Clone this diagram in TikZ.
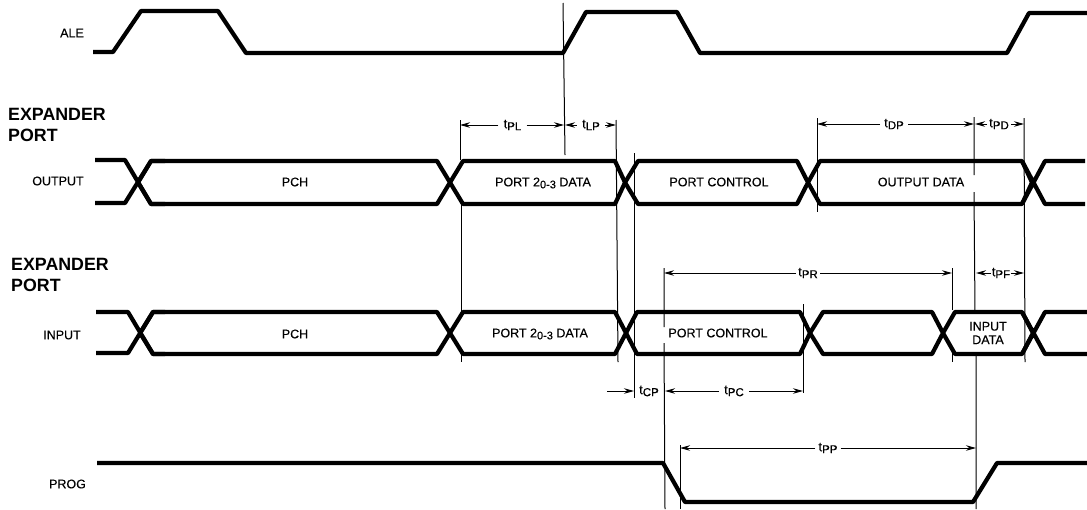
\documentclass[tikz,border=0pt]{standalone}
\usepackage{fontspec}
\setmainfont{Liberation Sans}
\newfontfamily\labf[FakeBold=0.35]{Liberation Sans}
\usetikzlibrary{arrows.meta}
\newcommand{\tsub}[1]{t{\fontsize{11.5}{12}\selectfont\raisebox{-2pt}{#1}}}
\newcommand{\hexseg}[6]{\draw[wave] (#1,{(#5+#6)/2}) -- (#2,#5) -- (#3,#5) -- (#4,{(#5+#6)/2}) -- (#3,#6) -- (#2,#6) -- cycle;}
\tikzset{
  wave/.style={line width=4.2pt,line join=round,line cap=butt},
  guide/.style={line width=1pt},
  dim/.style={line width=1pt,-{Stealth[length=10pt,width=5.5pt]}},
  lab/.style={font=\labf\fontsize{12.5}{13.5}\selectfont,inner sep=0pt,align=center},
  head/.style={font=\fontsize{17.8}{20}\selectfont\bfseries,inner sep=0pt,anchor=west},
  tl/.style={font=\labf\fontsize{13}{14}\selectfont,inner sep=2pt}
}
\begin{document}
\begin{tikzpicture}[x=1pt,y=-1pt]
\useasboundingbox (0,0) rectangle (1087,509);
% guide lines
\draw[guide] (563,3) -- (565,155);
\draw[guide] (460,120) -- (460,160) (461,204) -- (461,312) (461,354) -- (461,362);
\draw[guide] (616,120) -- (618,362);
\draw[guide] (634,153) -- (634,398);
\draw[guide] (664,268) -- (664,327) (664,343) -- (665,509);
\draw[guide] (680,445) -- (680,509);
\draw[guide] (803,304) -- (803,393);
\draw[guide] (817,118) -- (817,212);
\draw[guide] (974,117) -- (974,175) (974,192) -- (975,312) (976,353) -- (976,509);
\draw[guide] (1024,118) -- (1025,362);
\draw[guide] (952,268) -- (952,310) (952,352) -- (952,362);
% ALE
\draw[wave] (93,52) -- (113,52) -- (141,11) -- (218,11) -- (246,53) -- (563,53) -- (586,12) -- (677,12) -- (700,53) -- (1007,53) -- (1029,13) -- (1087,13);
% output bus
\draw[wave] (95,160) -- (125,160) -- (151,204) -- (165,204) (95,203) -- (125,203) -- (151,161) -- (165,161);
\hexseg{138}{151}{437}{450}{161}{204}
\hexseg{450}{463}{615}{625}{161}{204}
\hexseg{625}{638}{797}{808}{161}{204}
\hexseg{808}{820}{1022}{1032}{161}{204}
\draw[wave] (1022,161) -- (1045,204) -- (1085,204) (1022,204) -- (1045,161) -- (1085,161);
% input bus
\draw[wave] (96,312) -- (128,312) -- (153,354) -- (165,354) (96,353) -- (128,353) -- (153,312) -- (165,312);
\hexseg{140}{153}{437}{450}{312}{354}
\hexseg{450}{463}{615}{626}{312}{354}
\hexseg{626}{637}{800}{810}{312}{354}
\hexseg{810}{823}{932}{943}{312}{354}
\hexseg{943}{955}{1022}{1033}{312}{354}
\draw[wave] (1022,312) -- (1045,354) -- (1087,354) (1022,354) -- (1045,312) -- (1087,312);
% PROG
\draw[wave] (97,463) -- (663,463) -- (685,502) -- (973,502) -- (997,463) -- (1087,463);
% signal labels
\node[lab] (ale) at (72,33) {ALE};
\node[lab] (out) at (58,181) {OUTPUT};
\node[lab] (inp) at (62,335) {INPUT};
\node[lab] (prog) at (67.5,484) {PROG};
\node[head] (e1) at (8,114) {EXPANDER};
\node[head] (p1) at (8,135) {PORT};
\node[head] (e2) at (11,264) {EXPANDER};
\node[head] (p2) at (11,285) {PORT};
% bus labels
\node[lab] (pch1) at (295,182) {PCH};
\node[lab] (pch2) at (295,334) {PCH};
\node[lab] (pd1) at (543,183) {PORT 2\raisebox{-2pt}{\fontsize{11}{12}\selectfont 0-3} DATA};
\node[lab] (pd2) at (540,334) {PORT 2\raisebox{-2pt}{\fontsize{11}{12}\selectfont 0-3} DATA};
\node[lab] (pc1) at (719,182) {PORT CONTROL};
\node[lab] (pc2) at (718,333) {PORT CONTROL};
\node[lab] (od) at (921,182) {OUTPUT DATA};
\node[lab] (idata) at (988,333) {INPUT\\DATA};
% anchors of the dimension arrows
\coordinate (a460) at (460,125);
\coordinate (a564) at (564,125);
\coordinate (a565) at (565,125);
\coordinate (a616) at (616,125);
\coordinate (b817) at (817,124);
\coordinate (b974) at (974,124);
\coordinate (b975) at (975,124);
\coordinate (b1024) at (1024,124);
\coordinate (c664) at (664,273);
\coordinate (c952) at (952,273);
\coordinate (c976) at (976,273);
\coordinate (c1024) at (1024,273);
\coordinate (d607) at (607,391);
\coordinate (d634) at (634,391);
\coordinate (d665) at (665,391);
\coordinate (d803) at (803,391);
\coordinate (e680) at (680,448);
\coordinate (e976) at (976,448);
% dimension labels
\node[tl,inner xsep=5pt] (tpl) at (512.5,125) {\tsub{PL}};
\node[tl,inner xsep=5pt] (tlp) at (591,125) {\tsub{LP}};
\node[tl,inner xsep=4pt] (tdp) at (894,124) {\tsub{DP}};
\node[tl,inner xsep=2pt] (tpd) at (999,124) {\tsub{PD}};
\node[tl,inner xsep=2pt] (tpr) at (808,273) {\tsub{PR}};
\node[tl,inner xsep=0.5pt] (tpf) at (1001,273) {\tsub{PF}};
\node[tl,inner xsep=3pt] (tcp) at (649,391) {\tsub{CP}};
\node[tl,inner xsep=5pt] (tpc) at (734,391) {\tsub{PC}};
\node[tl,inner xsep=3pt] (tpp) at (828,448) {\tsub{PP}};
% dimension arrows
\draw[dim] (tpl) -- (a460);
\draw[dim] (tpl) -- (a564);
\draw[dim] (tlp) -- (a565);
\draw[dim] (tlp) -- (a616);
\draw[dim] (tdp) -- (b817);
\draw[dim] (tdp) -- (b974);
\draw[dim] (tpd) -- (b975);
\draw[dim] (tpd) -- (b1024);
\draw[dim] (tpr) -- (c664);
\draw[dim] (tpr) -- (c952);
\draw[dim] (tpf) -- (c976);
\draw[dim] (tpf) -- (c1024);
\draw[dim] (d607) -- (d634);
\draw[dim] (tpc) -- (d665);
\draw[dim] (tpc) -- (d803);
\draw[dim] (tpp) -- (e680);
\draw[dim] (tpp) -- (e976);
\end{tikzpicture}
\end{document}
